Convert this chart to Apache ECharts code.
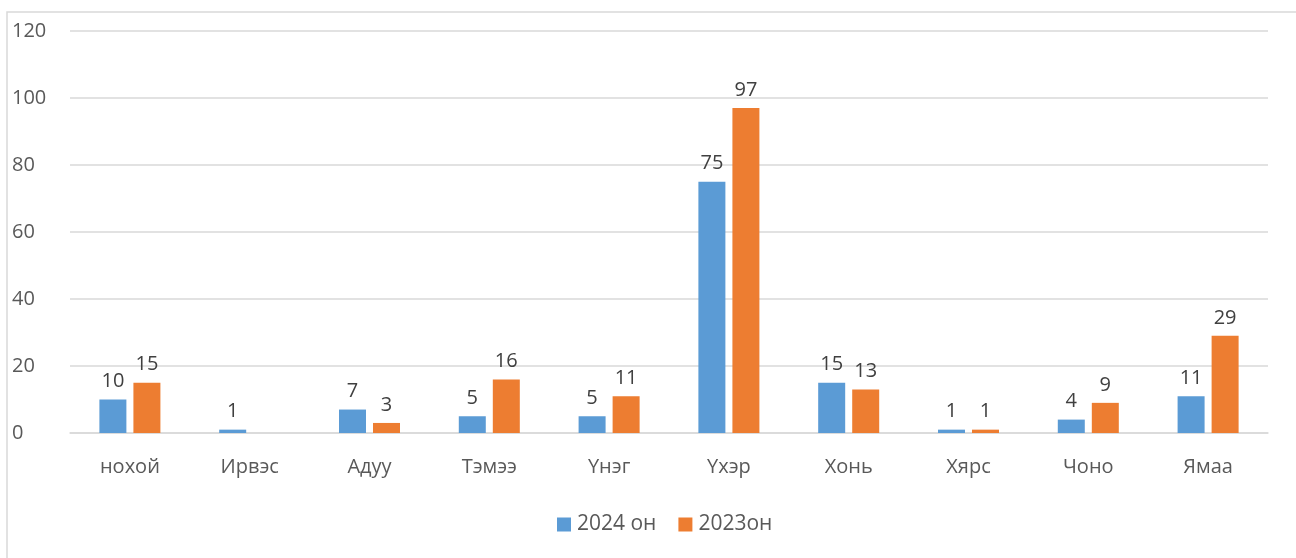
<!DOCTYPE html>
<html lang="mn">
<head>
    <meta charset="UTF-8">
    <title>Chart</title>
    <style>
        html, body { margin: 0; padding: 0; background: #fff; }
        #chart { width: 1296px; height: 558px; }
    </style>
</head>
<body>
    <div id="chart"></div>
    <script src="https://cdn.jsdelivr.net/npm/echarts@6/dist/echarts.min.js"></script>
    <script>
        var categories = ['нохой', 'Ирвэс', 'Адуу', 'Тэмээ', 'Үнэг', 'Үхэр', 'Хонь', 'Хярс', 'Чоно', 'Ямаа'];
        var values2024 = [10, 1, 7, 5, 5, 75, 15, 1, 4, 11];
        var values2023 = [15, null, 3, 16, 11, 97, 13, 1, 9, 29];
        var yTicks = { min: 0, max: 120, interval: 20 };

        var font = 'Open Sans, Noto Sans, sans-serif';
        var chart = echarts.init(document.getElementById('chart'));

        var label = {
            show: true,
            position: 'top',
            distance: 8,
            color: '#404040',
            fontSize: 20,
            fontFamily: font
        };

        chart.setOption({
            animation: false,
            graphic: [{
                type: 'rect',
                shape: { x: 7, y: 12, width: 1400, height: 700 },
                style: { fill: 'none', stroke: '#d9d9d9', lineWidth: 1.5 },
                silent: true
            }],
            grid: { left: 70, right: 28, top: 31, bottom: 125, containLabel: false, outerBoundsMode: 'none' },
            legend: {
                bottom: 18,
                left: 552,
                itemWidth: 14,
                itemHeight: 14,
                itemGap: 22,
                icon: 'rect',
                textStyle: { color: '#595959', fontSize: 21, fontFamily: font, padding: [0, 0, 0, 1] },
                data: ['2024 он', '2023он']
            },
            xAxis: {
                type: 'category',
                data: categories,
                axisLine: { lineStyle: { color: '#d9d9d9', width: 1.5 } },
                axisTick: { show: false },
                axisLabel: { color: '#595959', fontSize: 20, fontFamily: font, margin: 24 }
            },
            yAxis: {
                type: 'value',
                min: yTicks.min,
                max: yTicks.max,
                interval: yTicks.interval,
                axisLine: { show: false },
                axisTick: { show: false },
                splitLine: { lineStyle: { color: '#d9d9d9', width: 1.5 } },
                axisLabel: { color: '#595959', fontSize: 20, fontFamily: font, margin: 58, align: 'left' }
            },
            series: [
                {
                    name: '2024 он',
                    type: 'bar',
                    data: values2024,
                    barWidth: 27,
                    barGap: '26%',
                    itemStyle: { color: '#5B9BD5' },
                    label: label
                },
                {
                    name: '2023он',
                    type: 'bar',
                    data: values2023,
                    barWidth: 27,
                    itemStyle: { color: '#ED7D31' },
                    label: label
                }
            ]
        });
    </script>
</body>
</html>
